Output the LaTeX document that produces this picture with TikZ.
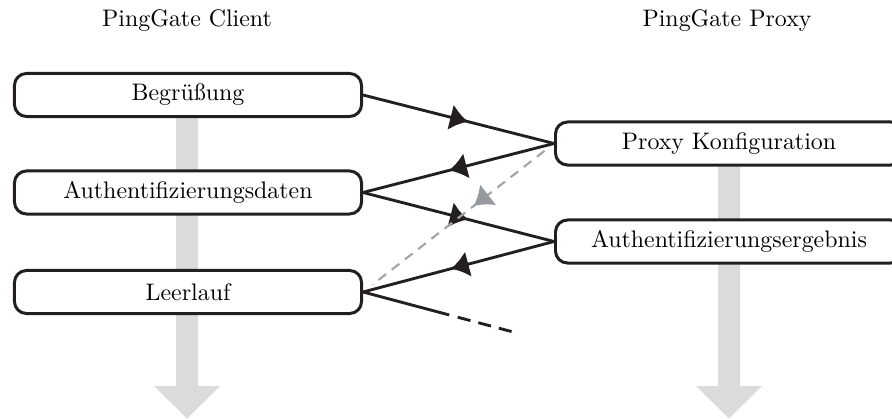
\documentclass[tikz,border=0pt]{standalone}
\usetikzlibrary{arrows.meta,decorations.markings,calc}

\definecolor{barfill}{RGB}{218,219,221}
\definecolor{ink}{RGB}{35,31,32}
\definecolor{dashgray}{RGB}{163,164,166}
\definecolor{headgray}{RGB}{150,154,158}

\tikzset{
  state/.style={draw=ink, line width=1.25pt, rounded corners=5pt, fill=white,
    minimum width=145.2pt, minimum height=18pt, inner sep=0pt},
  title/.style={anchor=base, inner sep=0pt},
  msg/.style={draw=ink, line width=1.2pt, postaction={decorate},
    decoration={markings, mark=at position #1 with {\arrow{Latex[length=7.5pt,width=11pt]}}}},
  msg/.default=0.55,
  plain/.style={draw=ink, line width=1.2pt},
  reply/.style={draw=dashgray, line width=0.9pt, dash pattern=on 4pt off 3pt,
    shorten <=5pt, shorten >=5pt, postaction={decorate},
    decoration={markings, mark=at position 0.42 with {\arrow[headgray]{Latex[length=7.5pt,width=11pt]}}}}
}

\begin{document}
\begin{tikzpicture}[x=0.4184pt,y=-0.4184pt]
\useasboundingbox (0,0) rectangle (892,419);
\clip (0,0) rectangle (892,419);

% time lines of both parties
\fill[barfill] (176,95) -- (198,95) -- (198,386) -- (220,386) -- (187,418.5)
  -- (154,386) -- (176,386) -- cycle;
\fill[barfill] (718,143.5) -- (740,143.5) -- (740,386) -- (762,386) -- (729,418.5)
  -- (696,386) -- (718,386) -- cycle;

% headings
\node[title] (tclient) at (187,27) {PingGate Client};
\node[title] (tproxy) at (727,27) {PingGate Proxy};

% client states
\node[state] (begr) at (188,95) {Begrüßung};
\node[state] (adat) at (188,192.5) {Authentifizierungsdaten};
\node[state] (leer) at (188,292) {Leerlauf};

% proxy states
\node[state] (pconf) at (729,143.5) {Proxy Konfiguration};
\node[state] (aerg) at (729,241.5) {Authentifizierungsergebnis};

% messages
\draw[msg] (begr.east) -- (pconf.west);
\draw[msg] (pconf.west) -- (adat.east);
\draw[msg] (adat.east) -- (aerg.west);
\draw[msg=0.54] (aerg.west) -- (leer.east);
\draw[reply] (pconf.west) -- (leer.east);

% open continuation after idle
\coordinate (tailend) at (517,333);
\coordinate (tailmid) at ($(leer.east)!0.56!(tailend)$);
\coordinate (tailgap) at ($(leer.east)!0.615!(tailend)$);
\draw[plain] (leer.east) -- (tailmid);
\draw[plain, dash pattern=on 5.5pt off 3.4pt] (tailgap) -- (tailend);
\end{tikzpicture}
\end{document}
